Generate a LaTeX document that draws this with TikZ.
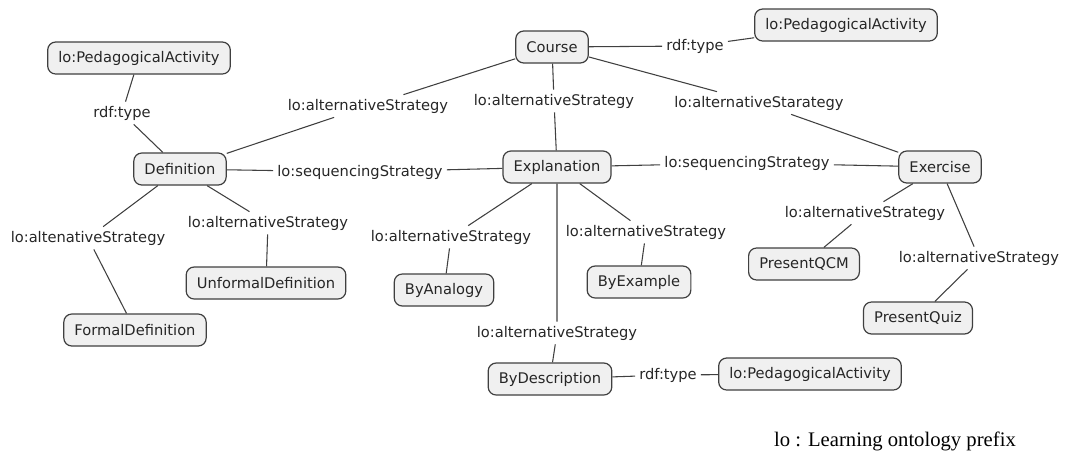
\documentclass[tikz,border=0pt]{standalone}
\usepackage{fontspec}
\setmainfont{DejaVu Sans}
\newfontfamily\notefont{Liberation Serif}
\usetikzlibrary{positioning}
\definecolor{boxfill}{HTML}{F0F0F0}
\definecolor{edgegray}{HTML}{404040}
\tikzstyle{concept} = [rectangle, rounded corners=6pt, minimum height=24pt, inner xsep=8pt, text centered, draw=edgegray, fill=boxfill, line width=0.9pt, text=black!85]
\tikzstyle{rel} = [inner sep=3pt, text=black!85]
\tikzstyle{connect} = [draw=edgegray, line width=0.8pt]

\begin{document}
\begin{tikzpicture}[x=0.75pt,y=-0.75pt,font=\fontsize{11}{13}\selectfont]
			\useasboundingbox (0,0) rectangle (1065,455);
			% concepts
			\node (course) [concept] at (552,47) {Course};
			\node (paTop) [concept] at (846,25) {lo:PedagogicalActivity};
			\node (paLeft) [concept] at (139,58) {lo:PedagogicalActivity};
			\node (defn) [concept] at (180,169) {Definition};
			\node (expl) [concept] at (557,167) {Explanation};
			\node (exer) [concept] at (940,167) {Exercise};
			\node (unformal) [concept] at (266,283) {UnformalDefinition};
			\node (formal) [concept] at (135,330) {FormalDefinition};
			\node (analogy) [concept] at (444,290) {ByAnalogy};
			\node (example) [concept] at (639,282) {ByExample};
			\node (descr) [concept] at (550,379) {ByDescription};
			\node (paBottom) [concept] at (810,374) {lo:PedagogicalActivity};
			\node (qcm) [concept] at (804,264) {PresentQCM};
			\node (quiz) [concept] at (918,318) {PresentQuiz};

			% relations
			\node (typeTop) [rel] at (695,46) {rdf:type};
			\node (typeLeft) [rel] at (122,113) {rdf:type};
			\node (typeBottom) [rel] at (668,375) {rdf:type};
			\node (altDefn) [rel] at (368,106) {lo:alternativeStrategy};
			\node (altExpl) [rel] at (554,101) {lo:alternativeStrategy};
			\node (altExer) [rel] at (759,103) {lo:alternativeStarategy};
			\node (seqLeft) [rel] at (360,172) {lo:sequencingStrategy};
			\node (seqRight) [rel] at (747,163) {lo:sequencingStrategy};
			\node (altFormal) [rel] at (88,238) {lo:altenativeStrategy};
			\node (altUnformal) [rel] at (268,223) {lo:alternativeStrategy};
			\node (altAnalogy) [rel] at (451,237) {lo:alternativeStrategy};
			\node (altExample) [rel] at (646,232) {lo:alternativeStrategy};
			\node (altDescr) [rel] at (557,333) {lo:alternativeStrategy};
			\node (altQcm) [rel] at (865,213) {lo:alternativeStrategy};
			\node (altQuiz) [rel] at (979,258) {lo:alternativeStrategy};

			\node (note) at (895,441) {\notefont\fontsize{15.5}{17}\selectfont lo : Learning ontology prefix};

			\draw [connect] (course) -- (typeTop) -- (paTop);
			\draw [connect] (defn) -- (typeLeft) -- (paLeft);
			\draw [connect] (descr) -- (typeBottom) -- (paBottom);
			\draw [connect] (course) -- (altDefn) -- (defn);
			\draw [connect] (course) -- (altExpl) -- (expl);
			\draw [connect] (course) -- (altExer) -- (exer);
			\draw [connect] (defn) -- (seqLeft) -- (expl);
			\draw [connect] (expl) -- (seqRight) -- (exer);
			\draw [connect] (defn) -- (altFormal) -- (formal);
			\draw [connect] (defn) -- (altUnformal) -- (unformal);
			\draw [connect] (expl) -- (altAnalogy) -- (analogy);
			\draw [connect] (expl) -- (altExample) -- (example);
			\draw [connect] (expl) -- (altDescr) -- (descr);
			\draw [connect] (exer) -- (altQcm) -- (qcm);
			\draw [connect] (exer) -- (altQuiz) -- (quiz);
			\end{tikzpicture}
\end{document}
